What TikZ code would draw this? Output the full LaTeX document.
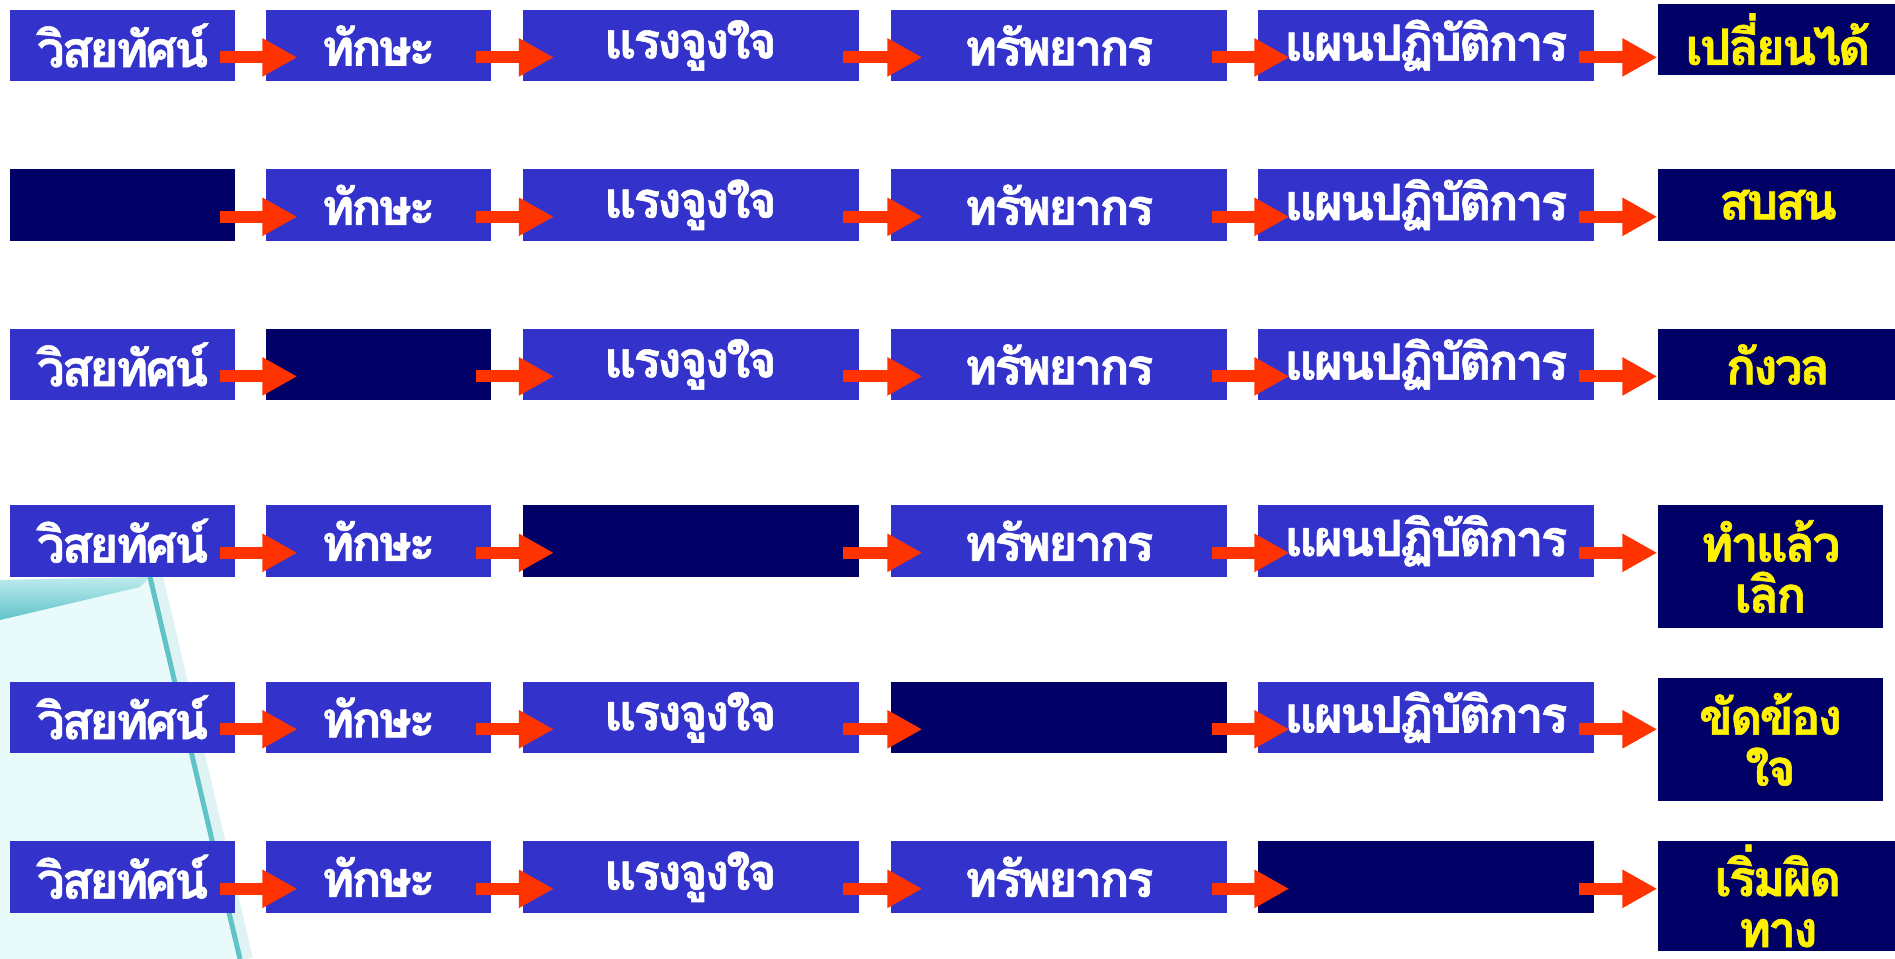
\documentclass[tikz,border=0pt]{standalone}
\usepackage{fontspec}
\newfontfamily\thaifont[Script=Thai, LetterSpace=-6, FakeBold=1.2]{Loma}
\usepackage{tikz}
\usetikzlibrary{arrows.meta,positioning,calc}
\usepackage{xcolor}
\definecolor{boxblue}{RGB}{51,51,204}
\definecolor{navy}{RGB}{0,0,102}
\definecolor{arrred}{RGB}{255,51,0}
\definecolor{paper}{RGB}{232,250,250}
\definecolor{edgeteal}{RGB}{95,195,200}
\definecolor{lightteal}{RGB}{190,236,238}

\begin{document}
\begin{tikzpicture}[
    box/.style={fill=boxblue, minimum width=2.25cm, minimum height=0.715cm, inner sep=0pt,
                text=white, font=\thaifont\bfseries\fontsize{14.2}{14.5}\selectfont},
    wide/.style={box, minimum width=3.36cm},
    blank/.style={fill=navy},
    res/.style={box, fill=navy, text=yellow, align=center},
    arr/.style={-{Triangle[length=0.35cm, width=0.36cm]}, line width=0.12cm, arrred}
]
\useasboundingbox (0,0) rectangle (18.95,-9.59);

% sheet of paper in the corner
\fill[paper] (0,-5.80) -- (1.50,-5.77) -- (2.40,-9.59) -- (0,-9.59) -- cycle;
\shade[top color=lightteal, bottom color=edgeteal] (0,-5.80) -- (1.50,-5.77) -- (1.40,-5.87) -- (0,-6.20) -- cycle;
\draw[line width=0.14cm, edgeteal, opacity=0.2] (1.56,-5.77) -- (2.46,-9.59);
\draw[line width=0.05cm, edgeteal] (1.50,-5.77) -- (2.40,-9.59);

% row 1
\node[box] (v1) at (1.225,-0.454) {วิสยทัศน์};
\node[box] (s1) at (3.785,-0.454) {ทักษะ};
\node[wide] (m1) at (6.905,-0.454) {แรงจูงใจ};
\node[wide] (r1) at (10.59,-0.454) {ทรัพยากร};
\node[wide] (p1) at (14.26,-0.454) {แผนปฏิบัติการ};
\node[res, minimum width=2.4cm] (o1) at (17.78,-0.393) {เปลี่ยนได้};

% row 2
\node[box, blank] (v2) at (1.225,-2.048) {};
\node[box] (s2) at (3.785,-2.048) {ทักษะ};
\node[wide] (m2) at (6.905,-2.048) {แรงจูงใจ};
\node[wide] (r2) at (10.59,-2.048) {ทรัพยากร};
\node[wide] (p2) at (14.26,-2.048) {แผนปฏิบัติการ};
\node[res, minimum width=2.4cm] (o2) at (17.78,-2.048) {สบสน};

% row 3
\node[box] (v3) at (1.225,-3.644) {วิสยทัศน์};
\node[box, blank] (s3) at (3.785,-3.644) {};
\node[wide] (m3) at (6.905,-3.644) {แรงจูงใจ};
\node[wide] (r3) at (10.59,-3.644) {ทรัพยากร};
\node[wide] (p3) at (14.26,-3.644) {แผนปฏิบัติการ};
\node[res, minimum width=2.4cm] (o3) at (17.78,-3.644) {กังวล};

% row 4
\node[box] (v4) at (1.225,-5.408) {วิสยทัศน์};
\node[box] (s4) at (3.785,-5.408) {ทักษะ};
\node[wide, blank] (m4) at (6.905,-5.408) {};
\node[wide] (r4) at (10.59,-5.408) {ทรัพยากร};
\node[wide] (p4) at (14.26,-5.408) {แผนปฏิบัติการ};
\node[res, minimum height=1.227cm] (o4) at (17.705,-5.664) {ทำแล้ว\\เลิก};

% row 5
\node[box] (v5) at (1.225,-7.173) {วิสยทัศน์};
\node[box] (s5) at (3.785,-7.173) {ทักษะ};
\node[wide] (m5) at (6.905,-7.173) {แรงจูงใจ};
\node[wide, blank] (r5) at (10.59,-7.173) {};
\node[wide] (p5) at (14.26,-7.173) {แผนปฏิบัติการ};
\node[res, minimum height=1.227cm] (o5) at (17.705,-7.394) {ขัดข้อง\\ใจ};

% row 6
\node[box] (v6) at (1.225,-8.768) {วิสยทัศน์};
\node[box] (s6) at (3.785,-8.768) {ทักษะ};
\node[wide] (m6) at (6.905,-8.768) {แรงจูงใจ};
\node[wide] (r6) at (10.59,-8.768) {ทรัพยากร};
\node[wide, blank] (p6) at (14.26,-8.768) {};
\node[res, minimum width=2.4cm, minimum height=1.10cm] (o6) at (17.78,-8.96) {เริ่มผิด\\ทาง};

% arrows
\draw[arr] ([shift={(-0.16,-0.12)}]v1.east) -- ([shift={(0.32,-0.12)}]s1.west);
\draw[arr] ([shift={(-0.16,-0.12)}]s1.east) -- ([shift={(0.32,-0.12)}]m1.west);
\draw[arr] ([shift={(-0.16,-0.12)}]m1.east) -- ([shift={(0.32,-0.12)}]r1.west);
\draw[arr] ([shift={(-0.16,-0.12)}]r1.east) -- ([shift={(0.32,-0.12)}]p1.west);
\draw[arr] ([shift={(-0.16,-0.12)}]p1.east) -- ([yshift=-0.12cm]p1.east -| o1.west);

\draw[arr] ([shift={(-0.16,-0.12)}]v2.east) -- ([shift={(0.32,-0.12)}]s2.west);
\draw[arr] ([shift={(-0.16,-0.12)}]s2.east) -- ([shift={(0.32,-0.12)}]m2.west);
\draw[arr] ([shift={(-0.16,-0.12)}]m2.east) -- ([shift={(0.32,-0.12)}]r2.west);
\draw[arr] ([shift={(-0.16,-0.12)}]r2.east) -- ([shift={(0.32,-0.12)}]p2.west);
\draw[arr] ([shift={(-0.16,-0.12)}]p2.east) -- ([yshift=-0.12cm]p2.east -| o2.west);

\draw[arr] ([shift={(-0.16,-0.12)}]v3.east) -- ([shift={(0.32,-0.12)}]s3.west);
\draw[arr] ([shift={(-0.16,-0.12)}]s3.east) -- ([shift={(0.32,-0.12)}]m3.west);
\draw[arr] ([shift={(-0.16,-0.12)}]m3.east) -- ([shift={(0.32,-0.12)}]r3.west);
\draw[arr] ([shift={(-0.16,-0.12)}]r3.east) -- ([shift={(0.32,-0.12)}]p3.west);
\draw[arr] ([shift={(-0.16,-0.12)}]p3.east) -- ([yshift=-0.12cm]p3.east -| o3.west);

\draw[arr] ([shift={(-0.16,-0.12)}]v4.east) -- ([shift={(0.32,-0.12)}]s4.west);
\draw[arr] ([shift={(-0.16,-0.12)}]s4.east) -- ([shift={(0.32,-0.12)}]m4.west);
\draw[arr] ([shift={(-0.16,-0.12)}]m4.east) -- ([shift={(0.32,-0.12)}]r4.west);
\draw[arr] ([shift={(-0.16,-0.12)}]r4.east) -- ([shift={(0.32,-0.12)}]p4.west);
\draw[arr] ([shift={(-0.16,-0.12)}]p4.east) -- ([yshift=-0.12cm]p4.east -| o4.west);

\draw[arr] ([shift={(-0.16,-0.12)}]v5.east) -- ([shift={(0.32,-0.12)}]s5.west);
\draw[arr] ([shift={(-0.16,-0.12)}]s5.east) -- ([shift={(0.32,-0.12)}]m5.west);
\draw[arr] ([shift={(-0.16,-0.12)}]m5.east) -- ([shift={(0.32,-0.12)}]r5.west);
\draw[arr] ([shift={(-0.16,-0.12)}]r5.east) -- ([shift={(0.32,-0.12)}]p5.west);
\draw[arr] ([shift={(-0.16,-0.12)}]p5.east) -- ([yshift=-0.12cm]p5.east -| o5.west);

\draw[arr] ([shift={(-0.16,-0.12)}]v6.east) -- ([shift={(0.32,-0.12)}]s6.west);
\draw[arr] ([shift={(-0.16,-0.12)}]s6.east) -- ([shift={(0.32,-0.12)}]m6.west);
\draw[arr] ([shift={(-0.16,-0.12)}]m6.east) -- ([shift={(0.32,-0.12)}]r6.west);
\draw[arr] ([shift={(-0.16,-0.12)}]r6.east) -- ([shift={(0.32,-0.12)}]p6.west);
\draw[arr] ([shift={(-0.16,-0.12)}]p6.east) -- ([yshift=-0.12cm]p6.east -| o6.west);
\end{tikzpicture}
\end{document}
